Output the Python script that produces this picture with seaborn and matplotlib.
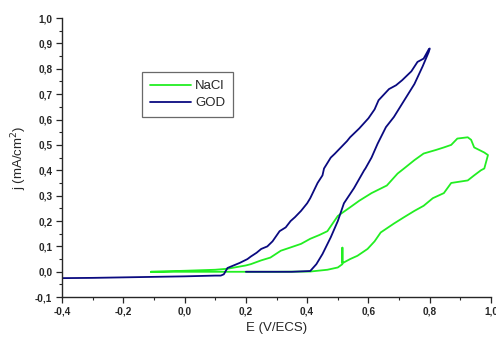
import matplotlib
matplotlib.use("Agg")
import matplotlib.pyplot as plt
import seaborn as sns
import pandas as pd
import numpy as np
from matplotlib.ticker import MultipleLocator, FuncFormatter

# GOD cycle (navy)
god_E = [-0.40, -0.30, -0.20, -0.10, 0.00, 0.10, 0.118, 0.128, 0.14, 0.16, 0.18, 0.205,
         0.216, 0.235, 0.25, 0.27, 0.287, 0.31, 0.33, 0.346, 0.36, 0.38, 0.40, 0.41,
         0.434, 0.45, 0.455, 0.477, 0.49, 0.51, 0.53, 0.54, 0.57, 0.60, 0.62, 0.633,
         0.667, 0.69, 0.71, 0.74, 0.76, 0.78, 0.797, 0.80,
         0.797, 0.777, 0.75, 0.717, 0.683, 0.657, 0.63, 0.61, 0.59, 0.586, 0.553,
         0.52, 0.50, 0.477, 0.45, 0.43, 0.41, 0.35, 0.30, 0.25, 0.20]
god_j = [-0.025, -0.024, -0.022, -0.020, -0.018, -0.015, -0.015, -0.010, 0.015, 0.025, 0.035, 0.050,
         0.060, 0.075, 0.090, 0.100, 0.120, 0.160, 0.175, 0.200, 0.215, 0.240, 0.270, 0.290,
         0.350, 0.380, 0.407, 0.450, 0.465, 0.490, 0.515, 0.530, 0.565, 0.605, 0.640, 0.676,
         0.720, 0.735, 0.755, 0.790, 0.827, 0.840, 0.877, 0.880,
         0.867, 0.810, 0.740, 0.676, 0.610, 0.570, 0.505, 0.450, 0.407, 0.400, 0.330,
         0.270, 0.200, 0.136, 0.070, 0.030, 0.003, 0.000, 0.000, 0.000, 0.000]

# NaCl cycle (green)
nacl_E = [-0.11, 0.00, 0.10, 0.14, 0.20, 0.216, 0.25, 0.28, 0.314, 0.346, 0.38, 0.41, 0.44,
          0.466, 0.50, 0.54, 0.57, 0.61, 0.66, 0.695, 0.716, 0.75, 0.78, 0.82, 0.846, 0.87,
          0.89, 0.924, 0.935, 0.945, 0.978, 0.99, 0.978, 0.967, 0.945, 0.924, 0.87, 0.846,
          0.81, 0.78, 0.75, 0.716, 0.683, 0.64, 0.62, 0.597, 0.564, 0.54, 0.52, 0.515,
          0.515, 0.515, 0.50, 0.466, 0.41, 0.30, 0.20, 0.10, 0.00, -0.11]
nacl_j = [0.000, 0.004, 0.008, 0.012, 0.025, 0.030, 0.045, 0.056, 0.083, 0.096, 0.110, 0.130, 0.145,
          0.160, 0.220, 0.254, 0.280, 0.310, 0.340, 0.387, 0.407, 0.440, 0.466, 0.480, 0.490, 0.500,
          0.525, 0.530, 0.520, 0.490, 0.470, 0.460, 0.407, 0.400, 0.380, 0.360, 0.350, 0.310,
          0.290, 0.260, 0.240, 0.215, 0.190, 0.155, 0.120, 0.090, 0.063, 0.050, 0.037, 0.035,
          0.095, 0.030, 0.017, 0.008, 0.001, 0.000, 0.000, 0.000, 0.000, 0.000]

df = pd.concat([
    pd.DataFrame({"E": nacl_E, "j": nacl_j, "serie": "NaCl"}),
    pd.DataFrame({"E": god_E, "j": god_j, "serie": "GOD"}),
])

sns.set_style("ticks")
plt.rcParams['font.family'] = ['Liberation Sans', 'DejaVu Sans']

fig = plt.figure(figsize=(4.96, 3.4), dpi=100)
ax = fig.add_axes([0.125, 0.126, 0.865, 0.821])

sns.lineplot(data=df, x="E", y="j", hue="serie", sort=False, estimator=None,
             palette={"NaCl": "#22ee22", "GOD": "#0a0a80"}, linewidth=1.3, ax=ax)

ax.set_xlim(-0.4, 1.0)
ax.set_ylim(-0.1, 1.0)
ax.xaxis.set_major_locator(MultipleLocator(0.2))
ax.xaxis.set_minor_locator(MultipleLocator(0.1))
ax.yaxis.set_major_locator(MultipleLocator(0.1))
ax.yaxis.set_minor_locator(MultipleLocator(0.05))
fmt = FuncFormatter(lambda v, p: f"{v:.1f}".replace(".", ",").replace("-0,0", "0,0"))
ax.xaxis.set_major_formatter(fmt)
ax.yaxis.set_major_formatter(fmt)
ax.tick_params(which="major", length=4, width=0.9, direction="out", labelsize=7.2, pad=3)
ax.tick_params(which="minor", length=2.5, width=0.8, direction="out")
for lab in ax.get_xticklabels() + ax.get_yticklabels():
    lab.set_fontweight("bold")
for s in ["left", "bottom"]:
    ax.spines[s].set_linewidth(1.0)
sns.despine(ax=ax)

ax.set_xlabel("E (V/ECS)", fontsize=9.5)
ax.set_ylabel("j (mA/cm$^2$)", fontsize=9.5)

leg = ax.legend(title=None, loc="upper left", bbox_to_anchor=(0.186, 0.806), borderaxespad=0,
                fontsize=9.5, handlelength=3.1, frameon=True, fancybox=False, borderpad=0.6,
                labelspacing=0.35, handletextpad=0.35)
leg.get_frame().set_edgecolor("#444444")
leg.get_frame().set_linewidth(0.9)

fig.savefig("out.png", dpi=100)
